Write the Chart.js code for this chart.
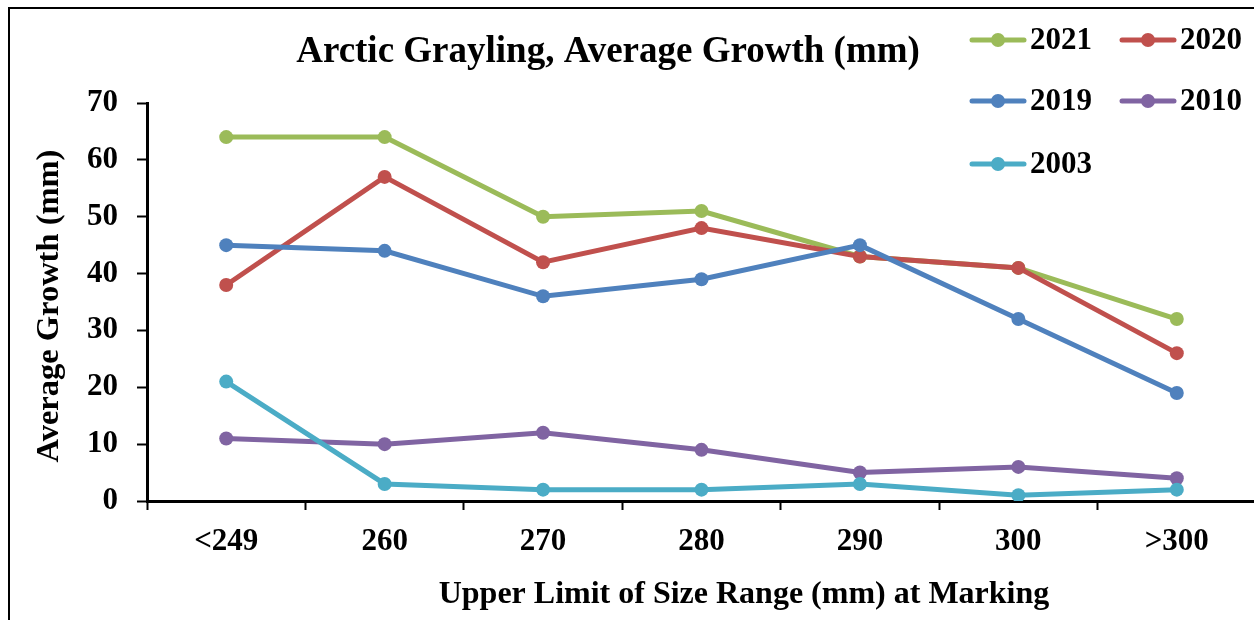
<!DOCTYPE html>
<html>
<head>
<meta charset="utf-8">
<script src="https://cdn.jsdelivr.net/npm/chart.js@4.4.1/dist/chart.umd.min.js"></script>
<style>
  html, body { margin: 0; padding: 0; background: #fff; overflow: hidden; }
  #wrap { width: 1254px; height: 620px; overflow: hidden; }
</style>
</head>
<body>
<div id="wrap"><canvas id="myChart" width="1258" height="620"></canvas></div>
<script>
// Categorias do eixo x
const categorias = ["<249", "260", "270", "280", "290", "300", ">300"];
const anos = ["2021", "2020", "2019", "2010", "2003"];

// Valores
const v2021 = [64, 64, 50, 51, 43, 41, 32];
const v2020 = [38, 57, 42, 48, 43, 41, 26];
const v2019 = [45, 44, 36, 39, 45, 32, 19];
const v2010 = [11, 10, 12, 9, 5, 6, 4];
const v2003 = [21, 3, 2, 2, 3, 1, 2];

const yTicks = [0, 10, 20, 30, 40, 50, 60, 70];
const colors = ["#9BBB59", "#C0504D", "#4F81BD", "#8064A2", "#4BACC6"];

const fonte = '"Liberation Serif", "Times New Roman", serif';

const series = [v2021, v2020, v2019, v2010, v2003];

// A ordem de desenho: 2003 por cima, 2021 por baixo
let datasets = series.map((valores, i) => ({
    label: anos[i],
    data: valores,
    borderColor: colors[i],
    backgroundColor: colors[i],
    borderWidth: 5,
    pointRadius: 7,
    pointHoverRadius: 7,
    pointBorderWidth: 0,
    pointBackgroundColor: colors[i],
    tension: 0,
    order: series.length - i
}));

// Moldura, títulos e legenda desenhados à mão
const extras = {
    id: "extras",
    beforeDraw(chart) {
        const ctx = chart.ctx;
        ctx.save();
        ctx.fillStyle = "#fff";
        ctx.fillRect(0, 0, chart.width, chart.height);
        ctx.fillStyle = "#000";
        ctx.fillRect(8, 7, 2, chart.height - 7);
        ctx.fillRect(8, 7, chart.width - 8, 2);
        ctx.restore();
    },
    afterDraw(chart) {
        const ctx = chart.ctx;
        ctx.save();
        ctx.fillStyle = "#000";
        ctx.textAlign = "center";
        ctx.textBaseline = "alphabetic";
        ctx.font = "bold 37px " + fonte;
        ctx.fillText("Arctic Grayling, Average Growth (mm)", 608, 62);

        ctx.font = "bold 32px " + fonte;
        ctx.fillText("Upper Limit of Size Range (mm) at Marking", 744, 603);

        // Título do eixo y
        ctx.save();
        ctx.translate(50, 306);
        ctx.rotate(-Math.PI / 2);
        ctx.textBaseline = "middle";
        ctx.font = "bold 32.5px " + fonte;
        ctx.fillText("Average Growth (mm)", 0, 0);
        ctx.restore();

        // Legenda em duas colunas
        ctx.font = "bold 31px " + fonte;
        ctx.textAlign = "left";
        ctx.textBaseline = "middle";
        chart.data.datasets.forEach((ds, i) => {
            const col = i % 2;
            const row = Math.floor(i / 2);
            const x = 970 + col * 150;
            const y = [40, 101, 164][row];
            ctx.strokeStyle = ds.borderColor;
            ctx.lineWidth = 5;
            ctx.lineCap = "round";
            ctx.beginPath();
            ctx.moveTo(x + 2, y);
            ctx.lineTo(x + 54, y);
            ctx.stroke();
            ctx.fillStyle = ds.borderColor;
            ctx.beginPath();
            ctx.arc(x + 28, y, 7, 0, Math.PI * 2);
            ctx.fill();
            ctx.fillStyle = "#000";
            ctx.fillText(ds.label, x + 60, y + 1);
        });
        ctx.restore();
    }
};

new Chart(document.getElementById("myChart"), {
    type: "line",
    data: {
        labels: categorias,
        datasets: datasets
    },
    options: {
        responsive: false,
        animation: false,
        layout: {
            autoPadding: false,
            padding: { top: 103, left: 0, right: 2, bottom: 0 }
        },
        plugins: {
            legend: { display: false },
            title: { display: false },
            tooltip: { enabled: false }
        },
        scales: {
            x: {
                type: "category",
                offset: true,
                grid: {
                    offset: true,
                    drawOnChartArea: false,
                    drawTicks: true,
                    tickLength: 9,
                    tickColor: "#000",
                    tickWidth: 2
                },
                border: { display: true, color: "#000", width: 3 },
                ticks: {
                    color: "#000",
                    font: { family: fonte, size: 31, weight: "bold" },
                    padding: 13,
                    maxRotation: 0,
                    autoSkip: false
                },
                afterFit(scale) { scale.height = 119; }
            },
            y: {
                min: 0,
                max: 70,
                afterBuildTicks(scale) {
                    scale.ticks = yTicks.map(v => ({ value: v }));
                },
                grid: {
                    drawOnChartArea: false,
                    drawTicks: true,
                    tickLength: 10,
                    tickColor: "#000",
                    tickWidth: 2
                },
                border: { display: true, color: "#000", width: 3 },
                ticks: {
                    color: "#000",
                    font: { family: fonte, size: 31, weight: "bold" },
                    padding: 19
                },
                afterFit(scale) { scale.width = 147; }
            }
        }
    },
    plugins: [extras]
});
</script>
</body>
</html>
